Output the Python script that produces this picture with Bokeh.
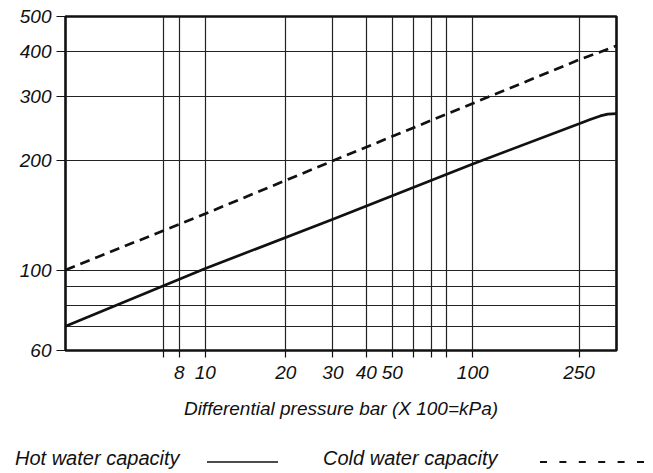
from bokeh.plotting import figure
from bokeh.layouts import column
from bokeh.models import FixedTicker, Range1d, CustomJSTickFormatter, Div
from bokeh.embed import file_html
from bokeh.resources import INLINE

# ---- data ----
pressure_ticks = [8, 10, 20, 30, 40, 50, 100, 250]
pressure_minor = [7, 60, 70, 80]
capacity_ticks = [60, 100, 200, 300, 400, 500]
capacity_minor = [70, 80, 90]

hot_pressure = [3, 10, 30, 100, 250, 275, 300, 320, 345]
hot_capacity = [70, 101, 138, 196, 253, 260, 266, 269, 270]

cold_pressure = [3, 10, 30, 100, 250, 345]
cold_capacity = [100, 143, 200, 288, 380, 415]

x_label = "Differential pressure bar (X 100=kPa)"
hot_label = "Hot water capacity"
cold_label = "Cold water capacity"

FONT = "Liberation Sans"
INK = "#111111"
GRID = "#222222"

p = figure(
    x_axis_type="log", y_axis_type="log",
    x_range=Range1d(3, 345), y_range=Range1d(60, 500),
    width=648, height=430,
    min_border_left=65, min_border_right=32,
    min_border_top=16, min_border_bottom=80,
    output_backend="svg", toolbar_location=None,
    background_fill_color="white", border_fill_color="white",
)

p.outline_line_color = INK
p.outline_line_width = 2.6

fmt = CustomJSTickFormatter(code="return tick.toString();")

xa = p.xaxis[0]
xa.ticker = FixedTicker(ticks=pressure_ticks, minor_ticks=pressure_minor)
xa.formatter = fmt
xa.axis_line_color = None
xa.major_tick_out = 7
xa.major_tick_in = 0
xa.minor_tick_out = 7
xa.minor_tick_in = 0
xa.major_tick_line_color = INK
xa.minor_tick_line_color = INK
xa.major_tick_line_width = 1.2
xa.minor_tick_line_width = 1.2
xa.major_label_standoff = 8
xa.axis_label = x_label
xa.axis_label_standoff = 16
xa.axis_label_text_font = FONT
xa.axis_label_text_font_style = "italic"
xa.axis_label_text_font_size = "19px"
xa.axis_label_text_color = INK

ya = p.yaxis[0]
ya.ticker = FixedTicker(ticks=capacity_ticks, minor_ticks=capacity_minor)
ya.formatter = fmt
ya.axis_line_color = None
ya.major_tick_out = 9
ya.major_tick_in = 0
ya.minor_tick_line_color = None
ya.major_tick_line_color = INK
ya.major_tick_line_width = 1.2
ya.major_label_standoff = 5

for ax in (xa, ya):
    ax.major_label_text_font = FONT
    ax.major_label_text_font_style = "italic"
    ax.major_label_text_font_size = "19px"
    ax.major_label_text_color = INK

for g in (p.xgrid[0], p.ygrid[0]):
    g.grid_line_color = GRID
    g.grid_line_width = 1.2
    g.minor_grid_line_color = GRID
    g.minor_grid_line_width = 1.2

p.line(hot_pressure, hot_capacity, line_width=2.7, line_color=INK)
p.line(cold_pressure, cold_capacity, line_width=2.7, line_color=INK, line_dash="10 6")

# ---- legend row below the chart (label first, then line sample) ----
txt_style = (f'font-family="{FONT}" font-style="italic" font-size="20" fill="{INK}"')
legend_html = (
    '<svg width="648" height="43" xmlns="http://www.w3.org/2000/svg" style="display:block">'
    f'<text x="15" y="35" {txt_style}>{hot_label}</text>'
    f'<line x1="207" y1="32" x2="278" y2="32" stroke="{INK}" stroke-width="1.3"/>'
    f'<text x="323" y="35" {txt_style}>{cold_label}</text>'
    f'<line x1="540" y1="32" x2="646" y2="32" stroke="{INK}" stroke-width="1.8" '
    'stroke-dasharray="7 12.4"/>'
    '</svg>'
)
legend = Div(text=legend_html, width=648, height=43, margin=0)

layout = column(p, legend, spacing=0)
open("out.html", "w").write(file_html(layout, INLINE))
